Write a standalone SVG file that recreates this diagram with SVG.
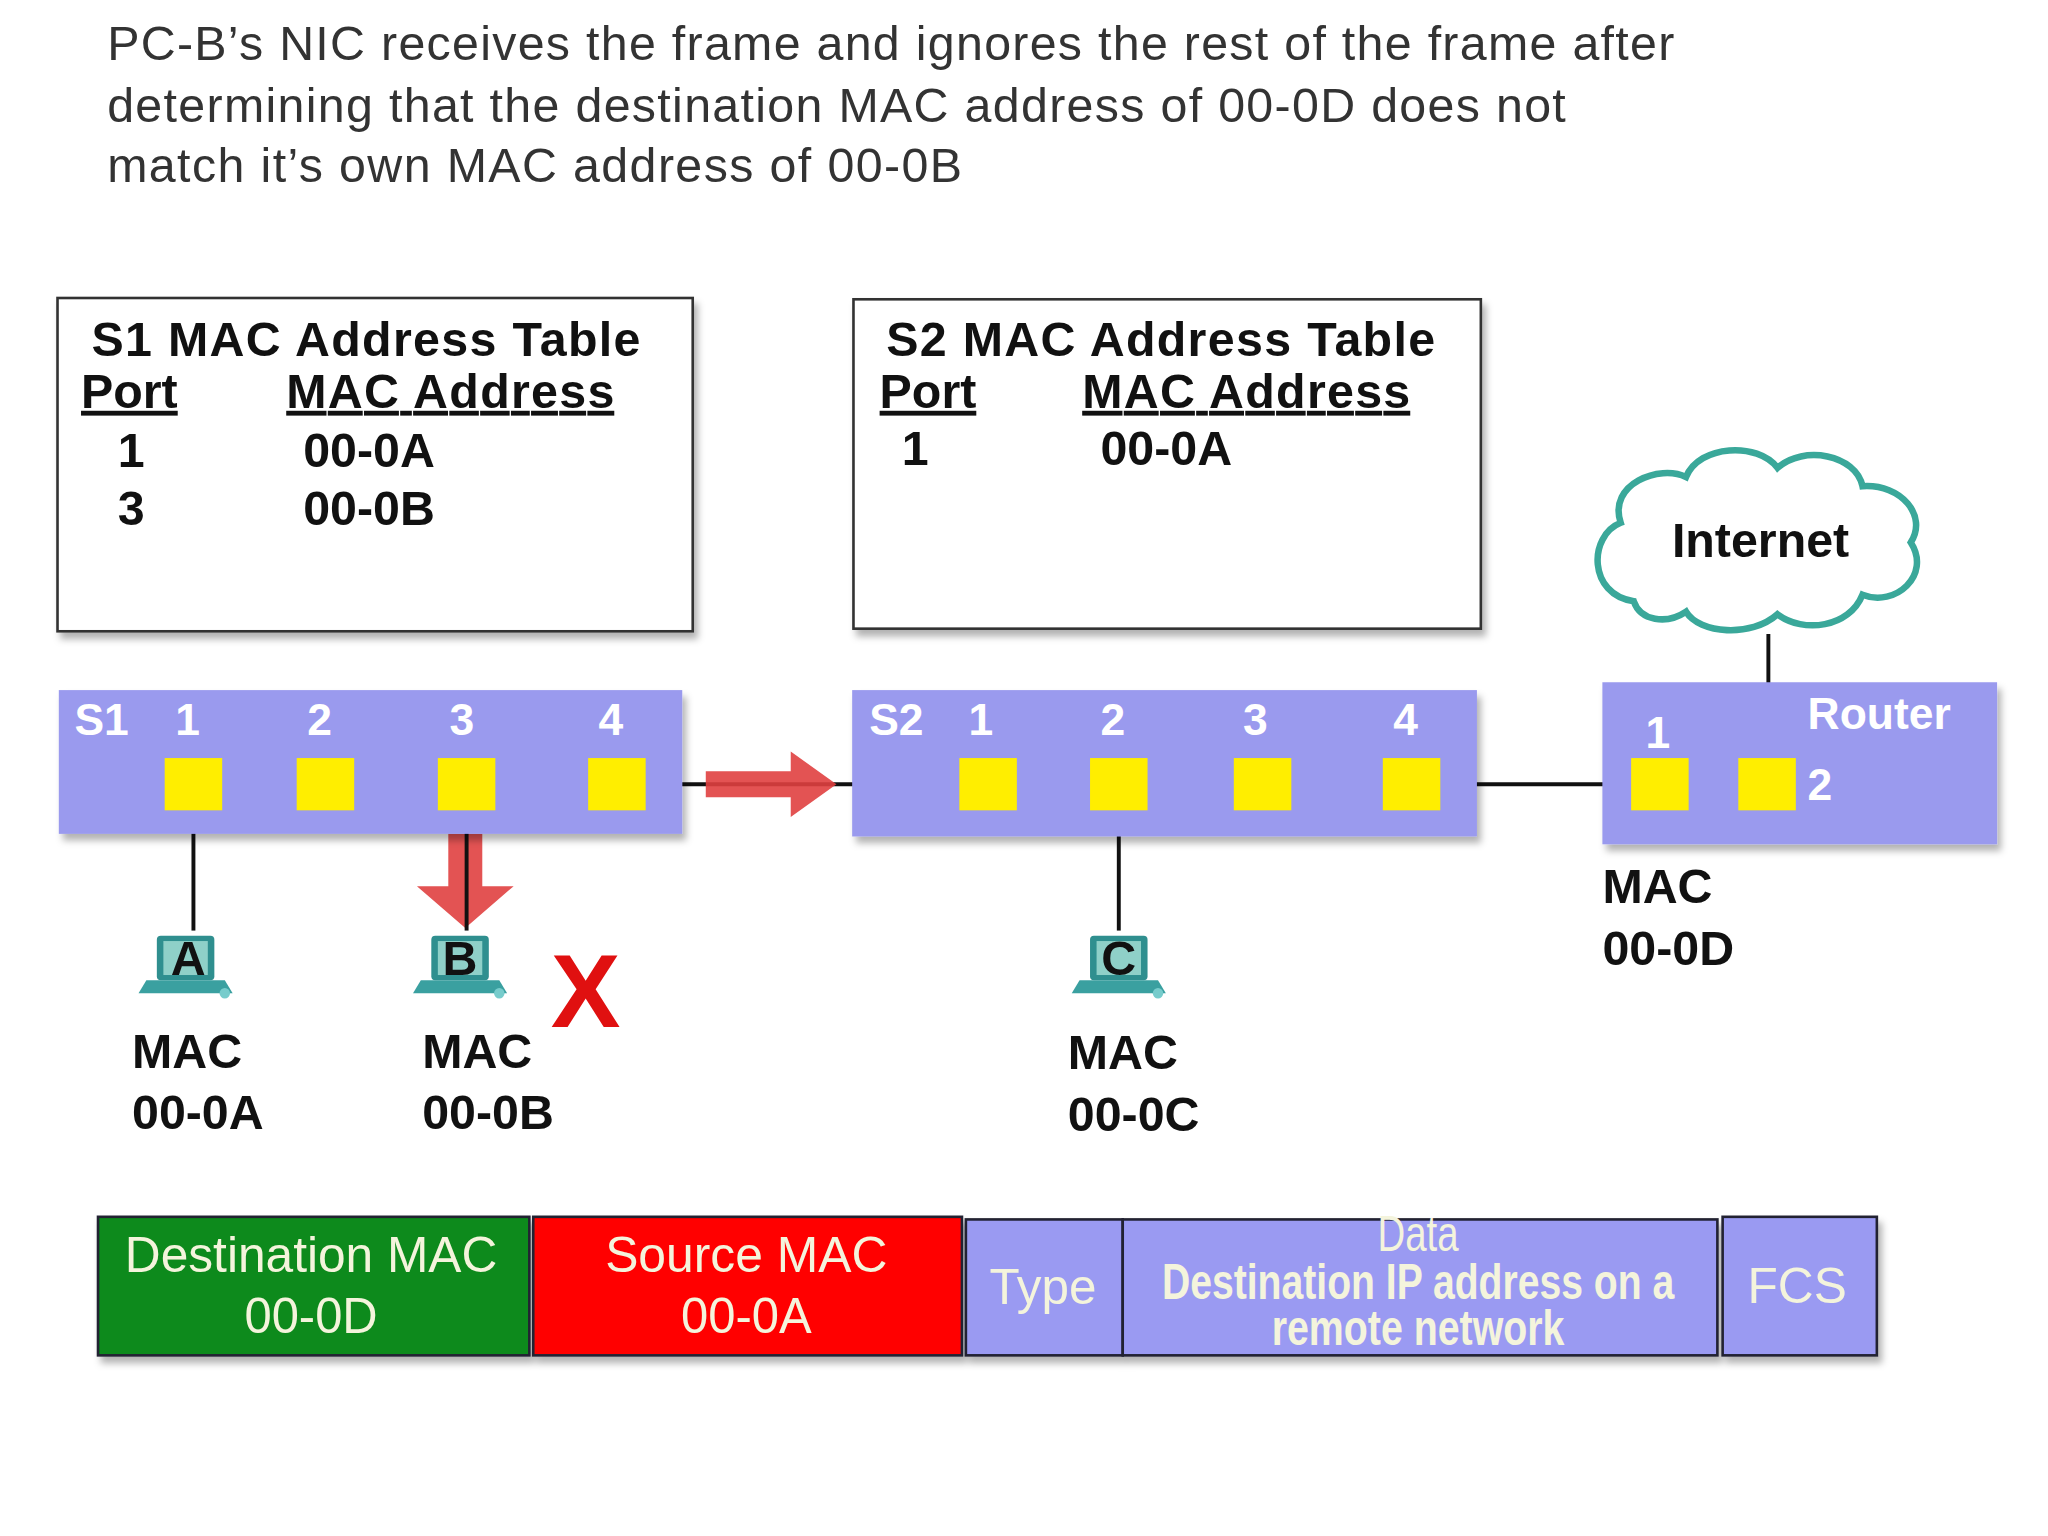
<svg xmlns="http://www.w3.org/2000/svg" width="2048" height="1536" viewBox="0 0 2048 1536">
<defs>
<style>
.t{font-family:"Liberation Sans",Arial,sans-serif;font-size:37px;fill:#333}
.b{font-family:"Liberation Sans",Arial,sans-serif;font-weight:bold;fill:#111;font-size:37px}
.lbl{font-family:"Liberation Sans",Arial,sans-serif;font-weight:bold;fill:#fff;font-size:34px}
.f{font-family:"Liberation Sans",sans-serif;fill:#f4f4dc;font-size:38px;text-anchor:middle}
.box{fill:#fff;stroke:#333;stroke-width:2}
.bar{fill:#9a9aee}
.port{fill:#ffee00}
.ln{stroke:#111;stroke-width:3;fill:none}
</style>
<filter id="sh" x="-5%" y="-5%" width="115%" height="130%"><feDropShadow dx="3" dy="5" stdDeviation="3" flood-color="#000" flood-opacity="0.3"/></filter>
<g id="pc">
<rect x="-22" y="-26" width="44" height="34" rx="3" fill="#2f8f8f"/>
<rect x="-17" y="-22" width="34" height="26" fill="#8fd0c8"/>
<path d="M-30 8 L30 8 L36 18 L-36 18 Z" fill="#3aa0a0"/>
<circle cx="30" cy="18" r="4" fill="#7cc"/>
</g>
</defs>
<rect width="2048" height="1536" fill="#fff"/>
<g transform="scale(1.307)">
<g id="title" class="t">
<text x="82" y="46" textLength="1199">PC-B’s NIC receives the frame and ignores the rest of the frame after</text>
<text x="82" y="93" textLength="1116">determining that the destination MAC address of 00-0D does not</text>
<text x="82" y="139" textLength="654">match it’s own MAC address of 00-0B</text>
</g>
<g id="s1table">
<rect class="box" x="44" y="228" width="486" height="255" filter="url(#sh)"/>
<text class="b" x="70" y="272" textLength="420">S1 MAC Address Table</text>
<text class="b" x="62" y="312" text-decoration="underline">Port</text>
<text class="b" x="219" y="312" text-decoration="underline" textLength="251">MAC Address</text>
<text class="b" x="90" y="357">1</text><text class="b" x="232" y="357">00-0A</text>
<text class="b" x="90" y="402">3</text><text class="b" x="232" y="402">00-0B</text>
</g>
<g id="s2table">
<rect class="box" x="653" y="229" width="480" height="252" filter="url(#sh)"/>
<text class="b" x="678" y="272" textLength="420">S2 MAC Address Table</text>
<text class="b" x="673" y="312" text-decoration="underline">Port</text>
<text class="b" x="828" y="312" text-decoration="underline" textLength="251">MAC Address</text>
<text class="b" x="690" y="356">1</text><text class="b" x="842" y="356">00-0A</text>
</g>
<g id="connectors">
<line class="ln" x1="494" y1="600" x2="734" y2="600"/>
<line class="ln" x1="1102" y1="600" x2="1248" y2="600"/>
<line class="ln" x1="1353" y1="485" x2="1353" y2="590"/>
<line class="ln" x1="148" y1="620" x2="148" y2="712"/>
<line class="ln" x1="856" y1="620" x2="856" y2="712"/>
<path d="M540 590 L605 590 L605 575 L640 600 L605 625 L605 610 L540 610 Z" fill="#e04040" opacity="0.9"/>
<path d="M343 638 L369 638 L369 678 L393 678 L356 710 L319 678 L343 678 Z" fill="#e04040" opacity="0.9"/>
<line class="ln" x1="357" y1="620" x2="357" y2="712"/>
</g>
<g id="internet">
<path d="M1250 460 C1215 455 1215 410 1240 400 C1230 370 1270 355 1290 365 C1300 340 1345 338 1360 358 C1380 340 1420 348 1425 372 C1455 370 1475 395 1462 415 C1478 440 1450 465 1425 455 C1415 480 1380 485 1360 470 C1340 488 1300 485 1290 468 C1275 478 1255 475 1250 460 Z" fill="#fff" stroke="#3aa89a" stroke-width="5"/>
<text class="b" x="1347" y="426" text-anchor="middle">Internet</text>
</g>
<g id="s1">
<rect class="bar" x="45" y="528" width="477" height="110" filter="url(#sh)"/>
<text class="lbl" x="57" y="562">S1</text><text class="lbl" x="134" y="562">1</text><text class="lbl" x="235" y="562">2</text><text class="lbl" x="344" y="562">3</text><text class="lbl" x="458" y="562">4</text>
<rect class="port" x="126" y="580" width="44" height="40"/><rect class="port" x="227" y="580" width="44" height="40"/><rect class="port" x="335" y="580" width="44" height="40"/><rect class="port" x="450" y="580" width="44" height="40"/>
</g>
<g id="s2">
<rect class="bar" x="652" y="528" width="478" height="112" filter="url(#sh)"/>
<text class="lbl" x="665" y="562">S2</text><text class="lbl" x="741" y="562">1</text><text class="lbl" x="842" y="562">2</text><text class="lbl" x="951" y="562">3</text><text class="lbl" x="1066" y="562">4</text>
<rect class="port" x="734" y="580" width="44" height="40"/><rect class="port" x="834" y="580" width="44" height="40"/><rect class="port" x="944" y="580" width="44" height="40"/><rect class="port" x="1058" y="580" width="44" height="40"/>
</g>
<g id="router">
<rect class="bar" x="1226" y="522" width="302" height="124" filter="url(#sh)"/>
<text class="lbl" x="1383" y="558">Router</text><text class="lbl" x="1259" y="572">1</text><text class="lbl" x="1383" y="612">2</text>
<rect class="port" x="1248" y="580" width="44" height="40"/><rect class="port" x="1330" y="580" width="44" height="40"/>
<text class="b" x="1226" y="691">MAC</text><text class="b" x="1226" y="738">00-0D</text>
</g>
<g id="pcA"><use href="#pc" x="142" y="742"/><text class="b" x="144" y="746" text-anchor="middle" font-size="30">A</text>
<text class="b" x="101" y="817">MAC</text><text class="b" x="101" y="864">00-0A</text></g>
<g id="pcB"><use href="#pc" x="352" y="742"/><text class="b" x="352" y="746" text-anchor="middle" font-size="30">B</text>
<text class="b" x="323" y="817">MAC</text><text class="b" x="323" y="864">00-0B</text>
<text x="448" y="786" font-family="Liberation Sans,sans-serif" font-weight="bold" font-size="80" fill="#e01010" text-anchor="middle">X</text></g>
<g id="pcC"><use href="#pc" x="856" y="742"/><text class="b" x="856" y="746" text-anchor="middle" font-size="30">C</text>
<text class="b" x="817" y="818">MAC</text><text class="b" x="817" y="865">00-0C</text></g>
<g id="frame" filter="url(#sh)" stroke="#223" stroke-width="2">
<rect x="75" y="931" width="330" height="106" fill="#0a8a1a"/>
<rect x="408" y="931" width="328" height="106" fill="#ff0000"/>
<rect x="739" y="933" width="120" height="104" fill="#9a9af2"/>
<rect x="859" y="933" width="455" height="104" fill="#9a9af2"/>
<rect x="1318" y="931" width="118" height="106" fill="#9a9af2"/>
</g>
<g id="frametext">
<text class="f" x="238" y="973" textLength="285" lengthAdjust="spacingAndGlyphs">Destination MAC</text><text class="f" x="238" y="1020" textLength="102" lengthAdjust="spacingAndGlyphs">00-0D</text>
<text class="f" x="571" y="973" textLength="216" lengthAdjust="spacingAndGlyphs">Source MAC</text><text class="f" x="571" y="1020" textLength="100" lengthAdjust="spacingAndGlyphs">00-0A</text>
<text class="f" x="798" y="998" textLength="82" lengthAdjust="spacingAndGlyphs">Type</text>
<text class="f" x="1085" y="957" font-size="21" textLength="62" lengthAdjust="spacingAndGlyphs">Data</text>
<text class="f" x="1085" y="994" font-size="25" font-weight="bold" textLength="392" lengthAdjust="spacingAndGlyphs">Destination IP address on a</text>
<text class="f" x="1085" y="1029" font-size="25" font-weight="bold" textLength="224" lengthAdjust="spacingAndGlyphs">remote network</text>
<text class="f" x="1375" y="997" textLength="76" lengthAdjust="spacingAndGlyphs">FCS</text>
</g>
</g>
</svg>
